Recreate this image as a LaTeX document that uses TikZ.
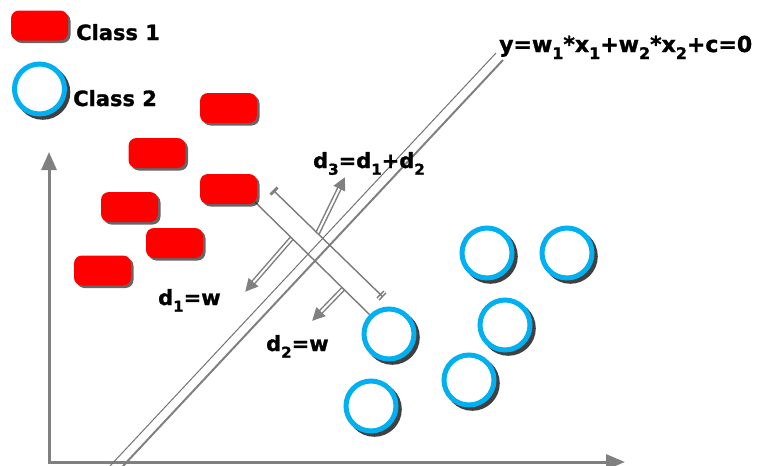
\documentclass[tikz,border=0pt]{standalone}
\usepackage{fontspec}
\setmainfont{DejaVu Sans}
\newfontfamily\lblfont[FakeBold=1.2]{DejaVu Sans Bold}
\usetikzlibrary{arrows.meta,shadows,calc}
\definecolor{ringcyan}{HTML}{00B0F0}
\definecolor{axgray}{HTML}{808080}
\definecolor{lngray}{HTML}{7A7A7A}
\pgfdeclarelayer{background}
\pgfsetlayers{background,main}
\newcommand\lowsub[1]{\raisebox{-0.32em}{\fontsize{15}{15}\selectfont #1}}
\newcommand\eqsub[1]{\raisebox{-0.32em}{\fontsize{16}{16}\selectfont #1}}
\begin{document}
\begin{tikzpicture}[x=1pt,y=-1pt,
  redbox/.style={fill=red, draw=none, rounded corners=8pt, minimum width=57pt, minimum height=30pt, inner sep=0pt,
    drop shadow={shadow xshift=2.5pt, shadow yshift=-2.5pt, fill=black, opacity=.6}},
  ringnode/.style={circle, draw=ringcyan, line width=5pt, fill=white, minimum size=50pt, inner sep=0pt,
    drop shadow={shadow xshift=3pt, shadow yshift=-3pt, shadow scale=1.1, fill=black, opacity=.75}},
  lbl/.style={inner sep=0pt, anchor=base west, font=\fontsize{21}{24}\lblfont},
  axisline/.style={draw=axgray, line width=3pt, line join=miter, {Triangle[length=18pt,width=15pt]}-{Triangle[length=19pt,width=15pt]}},
  guide/.style={draw=lngray, line width=1.4pt},
  dvecout/.style={draw=gray, line width=5pt, -{Triangle[length=13pt,width=12pt]}},
  dvecin/.style={draw=white, line width=2pt, shorten >=13pt, shorten <=1pt}
]
\useasboundingbox (0,0) rectangle (772,466);

% legend
\node[redbox] (leg1) at (39.5,25.5) {};
\node[ringnode] (leg2) at (39.5,89) {};
\node[lbl] (t1) at (76,40) {Class 1};
\node[lbl] (t2) at (73,106) {Class 2};

% class 1
\node[redbox] (r1) at (228.5,108) {};
\node[redbox] (r2) at (157,153) {};
\node[redbox] (r3) at (228.5,189) {};
\node[redbox] (r4) at (129.5,207) {};
\node[redbox] (r5) at (174.5,243) {};
\node[redbox] (r6) at (102.5,270.5) {};

% class 2
\node[ringnode] (c1) at (487,253) {};
\node[ringnode] (c2) at (567,253) {};
\node[ringnode] (c3) at (505,325) {};
\node[ringnode] (c4) at (389,334) {};
\node[ringnode] (c5) at (469,380) {};
\node[ringnode] (c6) at (371,406) {};

% labels
\node[lbl, font=\fontsize{22}{24}\lblfont] (eq) at (499,52) {y=w\eqsub{1}*x\eqsub{1}+w\eqsub{2}*x\eqsub{2}+c=0};
\node[lbl] (ld3) at (313,168) {d\lowsub{3}=d\lowsub{1}+d\lowsub{2}};
\node[lbl] (ld1) at (158,305) {d\lowsub{1}=w};
\node[lbl] (ld2) at (266,351) {d\lowsub{2}=w};

\begin{pgfonlayer}{background}
% axes
\coordinate (O) at (49,462);
\coordinate (Ytop) at (49,152);
\coordinate (Xend) at (625,462);
\draw[axisline] (Ytop) -- (O) -- (Xend);

% decision boundary
\coordinate (Da) at (110,466);
\coordinate (Db) at (496,53);
\coordinate (Ea) at (123,466);
\coordinate (Eb) at (503,60);
\draw[draw=gray!90!black, line width=1pt] (Da) -- (Db);
\draw[draw=gray, line width=2pt] (Ea) -- (Eb);

% distance lines
\coordinate (A) at ($(r3.south east)+(-2,-2)$);
\coordinate (B) at (c4.135);
\draw[guide] (A) -- (B);
\coordinate (L2a) at (272,189);
\coordinate (L2b) at (383,297);
\draw[guide, {Bar[width=10pt,sep=1.5pt]Bar[width=10pt]}-{Bar[width=10pt,sep=1.5pt]Bar[width=10pt]}] (L2a) -- (L2b);

% vectors
\coordinate (P1) at ($(A)!0.32!(B)$);
\coordinate (T1) at (245,292);
\coordinate (P2) at ($(A)!0.77!(B)$);
\coordinate (T2) at (312,321);
\coordinate (P3) at ($(L2a)!0.41!(L2b)$);
\coordinate (T3) at (345,177);
\draw[dvecout] (P1) -- (T1);
\draw[dvecin] (P1) -- (T1);
\draw[dvecout] (P2) -- (T2);
\draw[dvecin] (P2) -- (T2);
\draw[dvecout] (P3) -- (T3);
\draw[dvecin] (P3) -- (T3);
\end{pgfonlayer}
\end{tikzpicture}
\end{document}
